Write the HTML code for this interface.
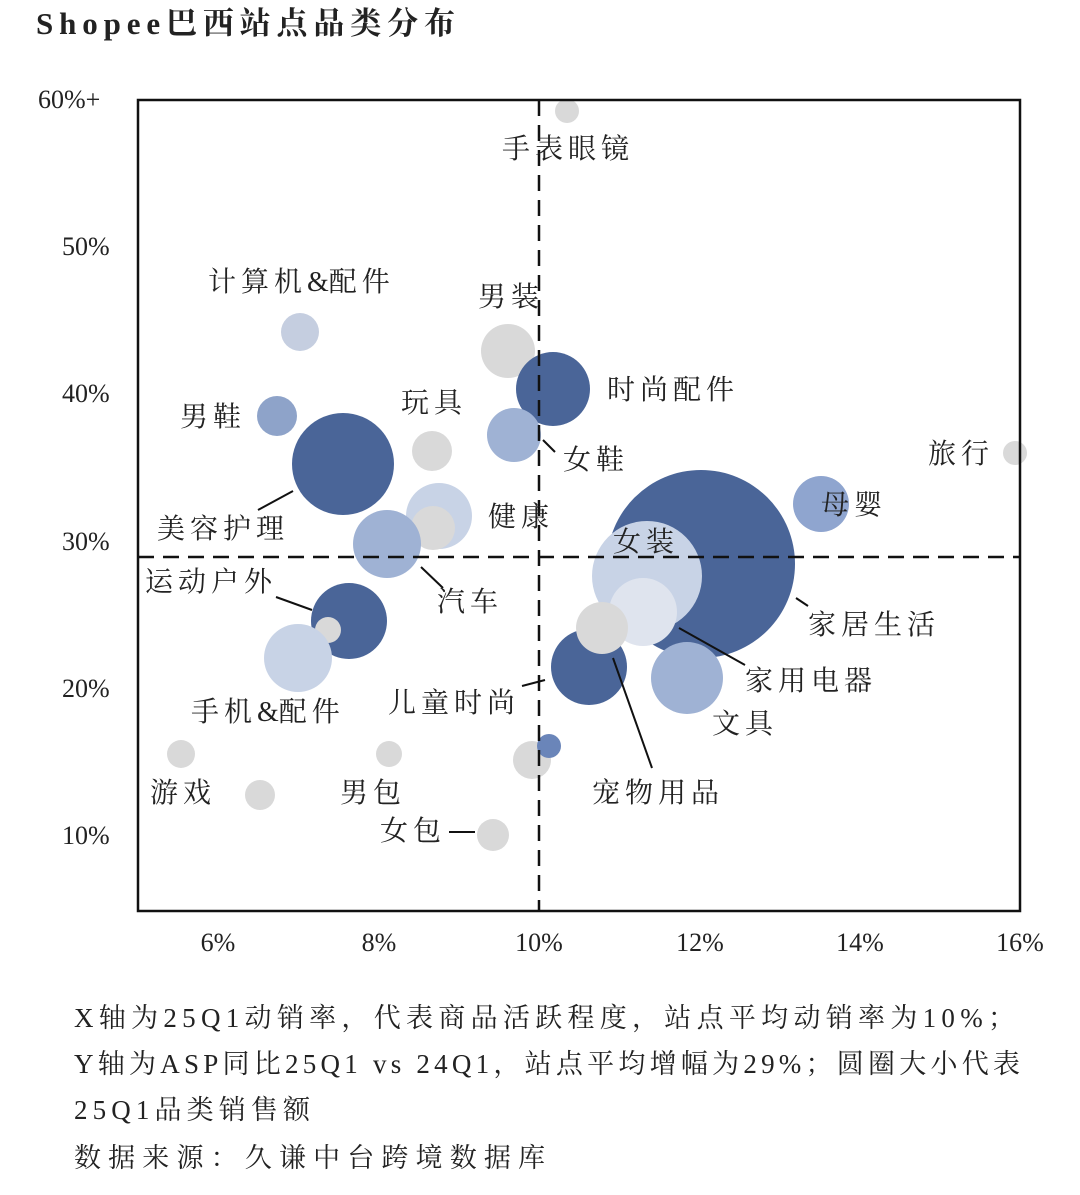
<!DOCTYPE html>
<html><head><meta charset="utf-8"><style>
body{margin:0;background:#fff;}
svg text{font-family:"Liberation Serif","Noto Serif CJK SC",serif;fill:#222;}
.cj{letter-spacing:5px;}
.l{letter-spacing:0;}
</style></head><body>
<svg width="1080" height="1190" viewBox="0 0 1080 1190" xmlns="http://www.w3.org/2000/svg">
<text x="36" y="34" font-size="31" font-weight="bold" fill="#111" textLength="419" lengthAdjust="spacing">Shopee巴西站点品类分布</text>
<g font-size="26" text-anchor="start">
<text x="38" y="108">60%+</text>
<text x="62" y="255">50%</text>
<text x="62" y="402">40%</text>
<text x="62" y="550">30%</text>
<text x="62" y="697">20%</text>
<text x="62" y="844">10%</text>
</g>
<g font-size="26" text-anchor="middle">
<text x="218" y="951">6%</text>
<text x="379" y="951">8%</text>
<text x="539" y="951">10%</text>
<text x="700" y="951">12%</text>
<text x="860" y="951">14%</text>
<text x="1020" y="951">16%</text>
</g>
<g>
<circle cx="567" cy="111" r="12" fill="#d9d9d9"/>
<circle cx="300" cy="332" r="19" fill="#c5cee0"/>
<circle cx="508" cy="351" r="27" fill="#d9d9d9"/>
<circle cx="553" cy="389" r="37" fill="#4a6598"/>
<circle cx="277" cy="416" r="20" fill="#8ea3c9"/>
<circle cx="514" cy="435" r="27" fill="#9fb2d4"/>
<circle cx="432" cy="451" r="20" fill="#d9d9d9"/>
<circle cx="343" cy="464" r="51" fill="#4a6598"/>
<circle cx="1015" cy="453" r="12" fill="#d9d9d9"/>
<circle cx="821" cy="504" r="28" fill="#8fa5cf"/>
<circle cx="439" cy="516" r="33" fill="#c8d3e6"/>
<circle cx="433" cy="528" r="22" fill="#d9d9d9"/>
<circle cx="387" cy="544" r="34" fill="#9fb2d4"/>
<circle cx="701" cy="564" r="94" fill="#4a6598"/>
<circle cx="647" cy="576" r="55" fill="#c8d3e6"/>
<circle cx="643" cy="612" r="34" fill="#dfe4ee"/>
<circle cx="349" cy="621" r="38" fill="#4a6598"/>
<circle cx="328" cy="630" r="13" fill="#d9d9d9"/>
<circle cx="298" cy="658" r="34" fill="#c8d3e6"/>
<circle cx="589" cy="667" r="38" fill="#4a6598"/>
<circle cx="602" cy="628" r="26" fill="#d9d9d9"/>
<circle cx="687" cy="678" r="36" fill="#9fb2d4"/>
<circle cx="532" cy="760" r="19" fill="#d9d9d9"/>
<circle cx="549" cy="746" r="12" fill="#6a85b9"/>
<circle cx="181" cy="754" r="14" fill="#d9d9d9"/>
<circle cx="389" cy="754" r="13" fill="#d9d9d9"/>
<circle cx="260" cy="795" r="15" fill="#d9d9d9"/>
<circle cx="493" cy="835" r="16" fill="#d9d9d9"/>
</g>
<rect x="138" y="100" width="882" height="811" fill="none" stroke="#111" stroke-width="2.5"/>
<line x1="539" y1="100" x2="539" y2="911" stroke="#111" stroke-width="2.5" stroke-dasharray="16,9"/>
<line x1="138" y1="557" x2="1020" y2="557" stroke="#111" stroke-width="2.5" stroke-dasharray="16,9"/>
<g stroke="#111" stroke-width="2" fill="none">
<line x1="258" y1="510" x2="293" y2="491"/>
<line x1="276" y1="597" x2="312" y2="610"/>
<line x1="421" y1="567" x2="443" y2="588"/>
<line x1="543" y1="440" x2="555" y2="452"/>
<line x1="796" y1="598" x2="808" y2="606"/>
<line x1="679" y1="628" x2="745" y2="665"/>
<line x1="613" y1="658" x2="652" y2="768"/>
<line x1="522" y1="686" x2="545" y2="680"/>
<line x1="449" y1="832" x2="475" y2="832"/>
</g>
<g font-size="28" class="cj">
<text x="502" y="158">手表眼镜</text>
<text x="208" y="291">计算机<tspan class="l">&amp;</tspan>配件</text>
<text x="478" y="306">男装</text>
<text x="607" y="399">时尚配件</text>
<text x="180" y="426">男鞋</text>
<text x="401" y="412">玩具</text>
<text x="563" y="469">女鞋</text>
<text x="928" y="463">旅行</text>
<text x="821" y="514">母婴</text>
<text x="488" y="526">健康</text>
<text x="157" y="538">美容护理</text>
<text x="613" y="551">女装</text>
<text x="145" y="591">运动户外</text>
<text x="437" y="611">汽车</text>
<text x="808" y="634">家居生活</text>
<text x="745" y="690">家用电器</text>
<text x="191" y="721">手机<tspan class="l">&amp;</tspan>配件</text>
<text x="388" y="712">儿童时尚</text>
<text x="712" y="733">文具</text>
<text x="150" y="802">游戏</text>
<text x="340" y="802">男包</text>
<text x="592" y="802">宠物用品</text>
<text x="380" y="840">女包</text>
</g>
<g font-size="27">
<text x="74" y="1027" textLength="941" lengthAdjust="spacing">X轴为25Q1动销率，代表商品活跃程度，站点平均动销率为10%；</text>
<text x="74" y="1073" textLength="946" lengthAdjust="spacing">Y轴为ASP同比25Q1 vs 24Q1，站点平均增幅为29%；圆圈大小代表</text>
<text x="74" y="1119" textLength="236" lengthAdjust="spacing">25Q1品类销售额</text>
<text x="74" y="1167" textLength="471" lengthAdjust="spacing">数据来源：久谦中台跨境数据库</text>
</g>
</svg>
</body></html>
